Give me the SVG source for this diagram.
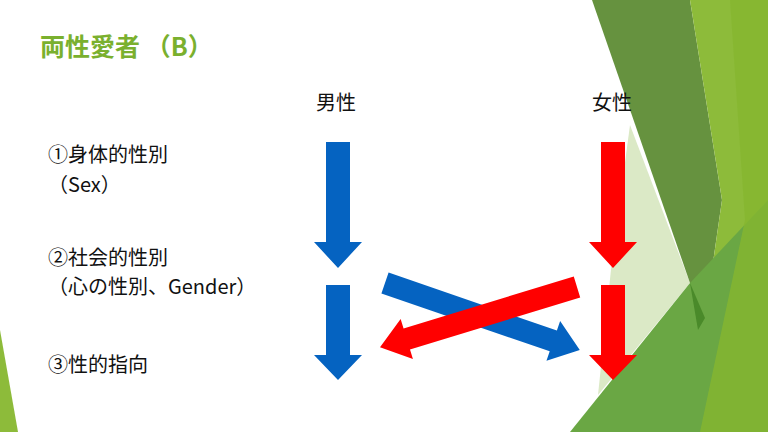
<svg xmlns="http://www.w3.org/2000/svg" width="768" height="432" viewBox="0 0 768 432">
<style>
text{font-family:"Noto Sans CJK JP","Liberation Sans",sans-serif;font-size:20px;fill:#111}
.b{fill:#0563c1}.r{fill:#ff0000}
</style>
<defs>
<polygon id="down" points="-12,0 12,0 12,100 24,100 0,126 -24,100 -12,100"/>
<polygon id="down2" points="-12,0 12,0 12,70 24,70 0,95 -24,70 -12,70"/>
<polygon id="diag" points="0,-11 178,-11 178,-21 206,0 178,21 178,11 0,11"/>
</defs>
<rect width="768" height="432" fill="#fff"/>
<g id="decor">
<polygon points="0,330 18,432 0,432" fill="#8dbb3a"/>
<polygon points="630,125 690,283 598,395 612,260" fill="#dbe9c6"/>
<polygon points="592,0 690,0 722,200 705,318 690,283" fill="#66923f"/>
<polygon points="690,0 768,0 768,432 640,432 705,318 722,200" fill="#8dbb3a"/>
<polygon points="570,432 690,283 768,200 768,432" fill="#6aa744"/>
<polygon points="730,0 768,0 768,432 700,432 745,220" fill="#86b630" opacity="0.8"/>
<polygon points="690,283 705,318 698,330" fill="#4a8a2a"/>
</g>
<text x="40" y="56" style="font-size:25px;font-weight:bold;fill:#7ab02e">両性愛者 （B）</text>
<g id="labels">
<text x="336" y="110" text-anchor="middle">男性</text>
<text x="612" y="110" text-anchor="middle">女性</text>
<text x="48" y="162">①身体的性別</text>
<text x="48" y="192">（Sex）</text>
<text x="48" y="265">②社会的性別</text>
<text x="48" y="294">（心の性別、Gender）</text>
<text x="48" y="372">③性的指向</text>
</g>
<g id="connectors">
<use href="#down" class="b" x="338" y="142"/>
<use href="#down2" class="b" x="338" y="285"/>
<use href="#down" class="r" x="613" y="142"/>
<use href="#down2" class="r" x="613" y="285"/>
<use href="#diag" class="b" transform="translate(385,283) rotate(19)"/>
<use href="#diag" class="r" transform="translate(577,287) rotate(163)"/>
</g>
</svg>
